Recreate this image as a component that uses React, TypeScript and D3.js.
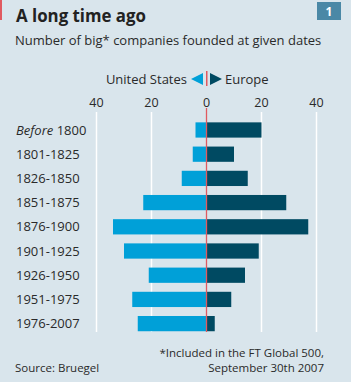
import * as d3 from "d3";
import React from "react";

const categories = [
  "Before 1800",
  "1801-1825",
  "1826-1850",
  "1851-1875",
  "1876-1900",
  "1901-1925",
  "1926-1950",
  "1951-1975",
  "1976-2007",
];
const usValues = [4, 5, 9, 23, 34, 30, 21, 27, 25];
const europeValues = [20, 10, 15, 29, 37, 19, 14, 9, 3];
const ticks = [-40, -20, 0, 20, 40];

const W = 351;
const H = 382;
const font = "'Open Sans', 'Noto Sans', sans-serif";
const bg = "#d9e5ec";
const usColor = "#00a0d8";
const euColor = "#004a62";
const red = "#e05a60";

export default function App() {
  const x = d3.scaleLinear().domain([-40, 40]).range([96.5, 316.5]);
  const y = d3.scaleBand().domain(categories).range([118, 335.6]).paddingInner(0.37).paddingOuter(0.18);

  const rows = categories.map((c, i) => ({ c, us: usValues[i], eu: europeValues[i] }));

  return (
    <div style={{ position: "fixed", left: 0, top: 0 }}>
      <svg width={W} height={H} style={{ display: "block", background: bg, fontFamily: font }}>
        <rect x={0} y={0} width={2} height={20} fill={red} />
        <text x={16} y={22} fontSize={17} fontWeight={700} fill="#222" textLength={130} lengthAdjust="spacingAndGlyphs">
          A long time ago
        </text>
        <rect x={317} y={2} width={24} height={18} fill="#4a88a6" />
        <text x={329} y={16} fontSize={12} fontWeight={700} fill="#fff" textAnchor="middle">1</text>
        <text x={15} y={45} fontSize={13} fill="#2a2a2a">Number of big* companies founded at given dates</text>

        {/* legend */}
        <text x={187} y={84} fontSize={13} fill="#2a2a2a" textAnchor="end">United States</text>
        <path d="M 191 79 L 203 73 L 203 85 Z" fill={usColor} />
        <rect x={206} y={71} width={1.5} height={15} fill={red} />
        <path d="M 222 79 L 210 73 L 210 85 Z" fill={euColor} />
        <text x={225} y={84} fontSize={13} fill="#2a2a2a">Europe</text>

        {/* grid + ticks */}
        {ticks.map((t) => (
          <g key={t}>
            <text x={x(t)} y={107} fontSize={12.5} fill="#2a2a2a" textAnchor="middle">{Math.abs(t)}</text>
            {t !== 0 && <line x1={x(t)} x2={x(t)} y1={112} y2={332} stroke="#fff" strokeWidth={1.5} />}
          </g>
        ))}

        {rows.map((r) => {
          const yy = y(r.c)!;
          const bh = y.bandwidth();
          return (
            <g key={r.c}>
              <rect x={x(-r.us)} y={yy} width={x(0) - x(-r.us)} height={bh} fill={usColor} />
              <rect x={x(0)} y={yy} width={x(r.eu) - x(0)} height={bh} fill={euColor} />
              <text x={16} y={yy + bh / 2} dy="0.35em" fontSize={13} fill="#2a2a2a">
                {r.c.startsWith("Before") ? (
                  <>
                    <tspan fontStyle="italic">Before</tspan> 1800
                  </>
                ) : (
                  r.c
                )}
              </text>
            </g>
          );
        })}

        <line x1={x(0)} x2={x(0)} y1={108} y2={332} stroke={red} strokeWidth={1.3} />

        <text x={324} y={357} fontSize={11.5} fill="#2a2a2a" textAnchor="end">*Included in the FT Global 500,</text>
        <text x={324} y={372} fontSize={11.5} fill="#2a2a2a" textAnchor="end">September 30th 2007</text>
        <text x={15} y={372} fontSize={11.5} fill="#2a2a2a">Source: Bruegel</text>
      </svg>
    </div>
  );
}
